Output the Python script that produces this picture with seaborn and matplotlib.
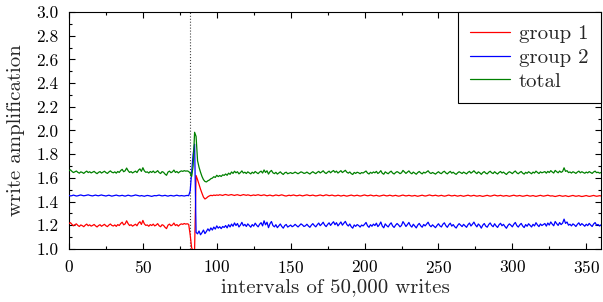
import numpy as np
import pandas as pd
import matplotlib
matplotlib.use("Agg")
import matplotlib.pyplot as plt
from matplotlib.ticker import MultipleLocator
import seaborn as sns

# write amplification per interval, in thousandths (x = 0, 1, 2, ...)
group1_milli = [
    1215, 1222, 1208, 1196, 1205, 1212, 1199, 1190, 1203, 1197,
    1188, 1201, 1210, 1196, 1204, 1193, 1199, 1207, 1195, 1186,
    1198, 1205, 1192, 1200, 1208, 1196, 1189, 1202, 1211, 1199,
    1194, 1203, 1191, 1206, 1198, 1215, 1226, 1204, 1212, 1238,
    1214, 1198, 1205, 1193, 1201, 1209, 1196, 1218, 1230, 1207,
    1241, 1212, 1199, 1203, 1192, 1206, 1198, 1210, 1195, 1202,
    1214, 1196, 1188, 1205, 1199, 1183, 1172, 1201, 1210, 1196,
    1203, 1219, 1198, 1206, 1193, 1205, 1212, 1208, 1215, 1210,
    1213, 1208, 1120, 1010, 985, 1000, 1620, 1585, 1545, 1505,
    1470, 1438, 1422, 1430, 1441, 1448, 1453, 1450, 1455, 1452,
    1456, 1453, 1458, 1455, 1452, 1457, 1460, 1456, 1453, 1457,
    1459, 1455, 1452, 1456, 1458, 1454, 1451, 1455, 1459, 1456,
    1453, 1457, 1454, 1450, 1453, 1456, 1452, 1455, 1458, 1454,
    1451, 1454, 1457, 1453, 1449, 1452, 1455, 1451, 1448, 1452,
    1456, 1453, 1450, 1454, 1457, 1453, 1449, 1447, 1451, 1454,
    1450, 1453, 1456, 1452, 1449, 1451, 1455, 1452, 1448, 1451,
    1454, 1457, 1453, 1450, 1452, 1455, 1451, 1448, 1450, 1453,
    1456, 1452, 1449, 1453, 1457, 1454, 1450, 1452, 1455, 1451,
    1448, 1450, 1454, 1451, 1447, 1450, 1453, 1449, 1446, 1449,
    1452, 1455, 1451, 1448, 1451, 1454, 1450, 1447, 1449, 1453,
    1456, 1452, 1449, 1451, 1455, 1452, 1448, 1450, 1453, 1449,
    1446, 1449, 1452, 1455, 1451, 1448, 1450, 1454, 1451, 1447,
    1450, 1453, 1449, 1446, 1448, 1452, 1455, 1451, 1448, 1450,
    1453, 1450, 1447, 1449, 1452, 1448, 1445, 1448, 1451, 1454,
    1450, 1447, 1449, 1453, 1456, 1452, 1449, 1451, 1454, 1450,
    1447, 1450, 1453, 1449, 1446, 1448, 1452, 1455, 1451, 1448,
    1450, 1453, 1449, 1446, 1449, 1452, 1448, 1445, 1448, 1451,
    1454, 1450, 1447, 1450, 1453, 1449, 1446, 1448, 1451, 1447,
    1444, 1447, 1450, 1453, 1449, 1446, 1448, 1452, 1455, 1451,
    1448, 1450, 1453, 1449, 1446, 1449, 1451, 1448, 1445, 1448,
    1451, 1454, 1450, 1447, 1449, 1452, 1448, 1445, 1447, 1450,
    1453, 1449, 1446, 1448, 1451, 1447, 1444, 1447, 1450, 1453,
    1449, 1446, 1448, 1451, 1454, 1450, 1447, 1449, 1446, 1443,
    1446, 1449, 1452, 1448, 1445, 1447, 1450, 1446, 1443, 1446,
    1449, 1452, 1448, 1445, 1447, 1450, 1446, 1443, 1445, 1448,
    1451, 1447, 1444, 1446, 1449, 1452, 1448, 1445, 1447, 1450,
    1448,
]

group2_milli = [
    1452, 1448, 1450, 1455, 1451, 1447, 1449, 1453, 1456, 1452,
    1449, 1451, 1454, 1457, 1453, 1450, 1448, 1452, 1455, 1451,
    1449, 1453, 1456, 1452, 1450, 1447, 1451, 1454, 1450, 1446,
    1449, 1452, 1455, 1451, 1448, 1450, 1453, 1449, 1446, 1450,
    1454, 1451, 1447, 1449, 1452, 1456, 1453, 1450, 1447, 1451,
    1448, 1445, 1449, 1452, 1450, 1447, 1444, 1448, 1451, 1449,
    1452, 1455, 1451, 1448, 1450, 1453, 1449, 1446, 1450, 1452,
    1449, 1447, 1451, 1454, 1450, 1448, 1451, 1449, 1447, 1450,
    1452, 1450, 1490, 1640, 1800, 1885, 1140, 1128, 1152, 1120,
    1138, 1160, 1130, 1148, 1170, 1152, 1178, 1160, 1185, 1168,
    1195, 1176, 1188, 1172, 1190, 1182, 1198, 1178, 1205, 1186,
    1210, 1192, 1220, 1198, 1215, 1186, 1202, 1225, 1196, 1208,
    1190, 1212, 1198, 1184, 1206, 1193, 1218, 1200, 1187, 1209,
    1222, 1195, 1238, 1204, 1226, 1180, 1213, 1232, 1198, 1187,
    1205, 1180, 1196, 1211, 1190, 1176, 1198, 1207, 1185, 1193,
    1202, 1188, 1195, 1208, 1197, 1186, 1199, 1212, 1203, 1190,
    1196, 1209, 1194, 1183, 1201, 1214, 1198, 1187, 1205, 1219,
    1197, 1210, 1226, 1202, 1189, 1207, 1221, 1199, 1216, 1230,
    1205, 1222, 1195, 1212, 1228, 1201, 1218, 1233, 1207, 1194,
    1211, 1188, 1176, 1203, 1191, 1206, 1198, 1185, 1202, 1195,
    1208, 1224, 1196, 1183, 1205, 1192, 1210, 1198, 1218, 1189,
    1204, 1228, 1193, 1179, 1212, 1197, 1186, 1207, 1221, 1195,
    1182, 1201, 1215, 1203, 1187, 1199, 1231, 1212, 1190, 1206,
    1224, 1198, 1185, 1209, 1193, 1178, 1202, 1216, 1196, 1184,
    1207, 1195, 1211, 1226, 1200, 1188, 1204, 1192, 1180, 1198,
    1213, 1195, 1186, 1209, 1221, 1197, 1183, 1204, 1218, 1193,
    1206, 1188, 1177, 1199, 1214, 1201, 1189, 1208, 1196, 1183,
    1205, 1219, 1194, 1209, 1227, 1203, 1187, 1211, 1198, 1176,
    1201, 1215, 1193, 1184, 1206, 1220, 1199, 1188, 1213, 1195,
    1182, 1204, 1217, 1196, 1208, 1190, 1175, 1198, 1212, 1201,
    1187, 1209, 1224, 1198, 1185, 1203, 1216, 1194, 1181, 1206,
    1192, 1213, 1200, 1186, 1208, 1195, 1222, 1203, 1189, 1211,
    1198, 1207, 1215, 1193, 1219, 1202, 1228, 1210, 1196, 1232,
    1214, 1199, 1223, 1206, 1218, 1252, 1216, 1228, 1201, 1209,
    1195, 1212, 1203, 1190, 1208, 1221, 1199, 1214, 1204, 1192,
    1209, 1197, 1216, 1202, 1190, 1211, 1223, 1201, 1207, 1194,
    1204,
]

total_milli = [
    1660, 1668, 1655, 1645, 1652, 1658, 1647, 1640, 1651, 1646,
    1638, 1649, 1657, 1645, 1652, 1642, 1648, 1655, 1644, 1636,
    1647, 1653, 1641, 1649, 1656, 1645, 1638, 1650, 1659, 1648,
    1643, 1651, 1640, 1654, 1646, 1662, 1672, 1652, 1660, 1683,
    1661, 1646, 1653, 1642, 1649, 1657, 1645, 1665, 1676, 1655,
    1686, 1659, 1647, 1651, 1641, 1654, 1646, 1658, 1644, 1650,
    1661, 1645, 1637, 1653, 1647, 1632, 1622, 1649, 1657, 1644,
    1651, 1666, 1646, 1654, 1642, 1652, 1659, 1655, 1661, 1657,
    1659, 1654, 1640, 1612, 1700, 1985, 1950, 1745, 1690, 1648,
    1612, 1585, 1570, 1566, 1576, 1582, 1593, 1598, 1610, 1604,
    1622, 1611, 1620, 1612, 1626, 1621, 1633, 1622, 1640, 1630,
    1650, 1638, 1656, 1643, 1652, 1634, 1645, 1659, 1641, 1648,
    1637, 1651, 1642, 1634, 1648, 1639, 1654, 1644, 1636, 1649,
    1657, 1641, 1667, 1646, 1660, 1632, 1652, 1663, 1643, 1636,
    1647, 1632, 1641, 1651, 1638, 1629, 1643, 1648, 1635, 1640,
    1645, 1637, 1641, 1649, 1642, 1635, 1643, 1651, 1646, 1638,
    1641, 1649, 1640, 1633, 1644, 1652, 1643, 1636, 1647, 1655,
    1642, 1650, 1660, 1645, 1637, 1648, 1657, 1643, 1654, 1662,
    1647, 1657, 1641, 1651, 1661, 1645, 1655, 1664, 1648, 1640,
    1650, 1636, 1629, 1646, 1638, 1648, 1643, 1635, 1645, 1641,
    1649, 1658, 1641, 1633, 1647, 1639, 1650, 1643, 1655, 1637,
    1646, 1661, 1639, 1631, 1651, 1642, 1635, 1648, 1657, 1641,
    1633, 1645, 1653, 1646, 1636, 1643, 1663, 1651, 1638, 1648,
    1659, 1643, 1635, 1649, 1640, 1631, 1645, 1654, 1642, 1634,
    1648, 1641, 1651, 1660, 1644, 1637, 1646, 1639, 1632, 1643,
    1652, 1641, 1636, 1649, 1656, 1642, 1634, 1646, 1655, 1640,
    1648, 1637, 1630, 1643, 1652, 1645, 1637, 1649, 1642, 1634,
    1647, 1655, 1640, 1649, 1660, 1646, 1636, 1651, 1643, 1630,
    1645, 1653, 1640, 1634, 1648, 1656, 1643, 1637, 1652, 1641,
    1633, 1646, 1654, 1641, 1649, 1638, 1629, 1643, 1652, 1645,
    1636, 1649, 1658, 1643, 1635, 1646, 1654, 1640, 1632, 1647,
    1639, 1652, 1644, 1635, 1649, 1641, 1657, 1646, 1637, 1651,
    1643, 1648, 1653, 1640, 1655, 1645, 1661, 1650, 1641, 1663,
    1652, 1643, 1658, 1647, 1654, 1685, 1655, 1661, 1645, 1650,
    1641, 1652, 1646, 1638, 1649, 1657, 1643, 1652, 1646, 1639,
    1649, 1642, 1653, 1645, 1638, 1650, 1657, 1644, 1648, 1640,
    1646,
]

series_names = ["group 1", "group 2", "total"]
series_colors = ["#ff0000", "#0000ff", "#008000"]
switch_point = 82

frames = []
for name, vals in zip(series_names, [group1_milli, group2_milli, total_milli]):
    frames.append(pd.DataFrame({
        "interval": np.arange(len(vals)),
        "wa": np.array(vals) / 1000.0,
        "series": name,
    }))
df = pd.concat(frames, ignore_index=True)

sns.set_style("ticks")
plt.rcParams["font.family"] = ["cmr10", "DejaVu Serif"]
plt.rcParams["axes.formatter.use_mathtext"] = True
plt.rcParams["mathtext.fontset"] = "cm"

fig = plt.figure(figsize=(6.03, 3.02), dpi=100)
ax = fig.add_axes([0.1144, 0.1755, 0.8823, 0.7848])

ax.axvline(switch_point, color="#444444", linestyle=":", linewidth=0.8, zorder=1)

sns.lineplot(data=df, x="interval", y="wa", hue="series",
             palette=dict(zip(series_names, series_colors)),
             linewidth=0.9, ax=ax, zorder=3)

ax.set_xlim(0, 360)
ax.set_ylim(1.0, 3.0)
ax.xaxis.set_major_locator(MultipleLocator(50))
ax.xaxis.set_minor_locator(MultipleLocator(25))
ax.yaxis.set_major_locator(MultipleLocator(0.2))
ax.yaxis.set_minor_locator(MultipleLocator(0.1))
ax.yaxis.set_major_formatter(plt.FormatStrFormatter("%.1f"))
ax.tick_params(which="both", direction="in", top=True, right=True,
               labelsize=12.5, width=0.8, colors="black")
ax.tick_params(which="major", length=4.5)
ax.tick_params(which="minor", length=2.5)
ax.tick_params(axis="y", which="major", pad=7.5)
ax.tick_params(axis="x", which="major", pad=7)
for sp in ax.spines.values():
    sp.set_linewidth(0.8)
    sp.set_color("black")

ax.set_xlabel("intervals of 50,000 writes", fontsize=15, labelpad=2)
ax.set_ylabel("write amplification", fontsize=15, labelpad=8)

leg = ax.legend(loc="upper right", borderaxespad=0, fontsize=15,
                fancybox=False, framealpha=1, edgecolor="black",
                handlelength=1.9, handletextpad=0.45, borderpad=0.6,
                labelspacing=0.25)
leg.get_frame().set_linewidth(0.8)

fig.savefig("out.png", dpi=100)
